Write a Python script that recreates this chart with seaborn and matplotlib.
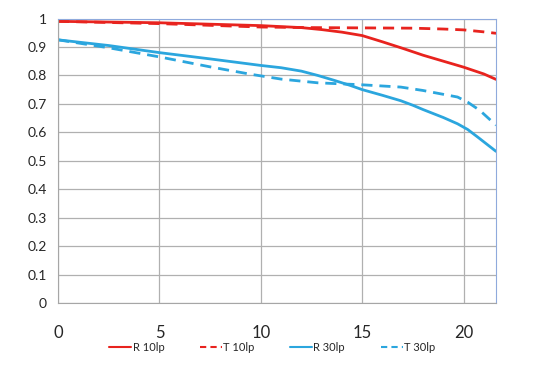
import matplotlib
matplotlib.use("Agg")
import matplotlib.pyplot as plt
import pandas as pd
import seaborn as sns

# MTF values (image height in mm vs contrast)
r10_x = [0, 5, 10, 12, 13, 14, 15, 16, 17, 18, 19, 20, 21, 21.6]
r10_y = [0.99, 0.985, 0.975, 0.968, 0.961, 0.952, 0.94, 0.918, 0.895, 0.871, 0.85, 0.829, 0.805, 0.786]

t10_x = [0, 5, 10, 12.5, 15, 17.5, 19, 20, 21, 21.6]
t10_y = [0.99, 0.982, 0.97, 0.968, 0.967, 0.966, 0.963, 0.96, 0.953, 0.948]

r30_x = [0, 2.5, 5, 7.5, 10, 11, 12, 12.8, 13.6, 14.4, 15, 16, 16.9, 17.5, 18, 19, 19.7, 20.2, 20.7, 21.6]
r30_y = [0.925, 0.905, 0.88, 0.858, 0.835, 0.827, 0.815, 0.80, 0.783, 0.765, 0.75, 0.73, 0.711, 0.695,
         0.68, 0.652, 0.63, 0.61, 0.583, 0.533]

t30_x = [0, 2.5, 5, 7.5, 9.5, 11, 12.8, 15, 16.9, 18, 19.7, 20.2, 20.8, 21.6]
t30_y = [0.925, 0.897, 0.865, 0.83, 0.804, 0.787, 0.774, 0.767, 0.759, 0.747, 0.724, 0.706, 0.677, 0.625]

series = ["R 10lp", "T 10lp", "R 30lp", "T 30lp"]

frames = []
for name, xs, ys in zip(series, [r10_x, t10_x, r30_x, t30_x], [r10_y, t10_y, r30_y, t30_y]):
    frames.append(pd.DataFrame({"x": xs, "y": ys, "series": name}))
df = pd.concat(frames, ignore_index=True)

sns.set_style("white")
plt.rcParams["font.family"] = ["Lato", "DejaVu Sans"]

red = "#e8231e"
blue = "#2ba6de"
palette = {"R 10lp": red, "T 10lp": red, "R 30lp": blue, "T 30lp": blue}
dashes = {"R 10lp": "", "T 10lp": (4, 2.5), "R 30lp": "", "T 30lp": (4, 2.5)}

fig = plt.figure(figsize=(5.38, 3.70), dpi=100)
ax = fig.add_axes([0.108, 0.181, 0.814, 0.769])

sns.lineplot(data=df, x="x", y="y", hue="series", style="series", palette=palette,
             dashes=dashes, linewidth=2, sort=False, ax=ax, legend=False)

ax.set_xlim(0, 21.6)
ax.set_ylim(0, 1)
ax.set_xticks([0, 5, 10, 15, 20])
ax.set_yticks([i / 10 for i in range(11)])
ax.set_yticklabels(["0", "0.1", "0.2", "0.3", "0.4", "0.5", "0.6", "0.7", "0.8", "0.9", "1"])
ax.grid(True, color="#b0b0b0", linewidth=0.9)
ax.set_axisbelow(True)
ax.set_xlabel("")
ax.set_ylabel("")

for side in ["left", "bottom"]:
    ax.spines[side].set_color("#a6a6a6")
for side in ["top", "right"]:
    ax.spines[side].set_color("#8faadc")
ax.tick_params(axis="x", length=6, width=1, color="#a6a6a6", pad=10, labelsize=12)
ax.tick_params(axis="y", length=4, width=1, color="#a6a6a6", pad=4, labelsize=10)

handles = [plt.Line2D([], [], color=palette[s], linewidth=1.5,
                      linestyle="-" if dashes[s] == "" else (0, (3, 2))) for s in series]
fig.legend(handles, series, loc="center", bbox_to_anchor=(0.506, 0.062), ncol=4,
           frameon=False, fontsize=8, handlelength=2.0, handletextpad=0.1,
           columnspacing=3.2)

fig.savefig("out.png", dpi=100)
